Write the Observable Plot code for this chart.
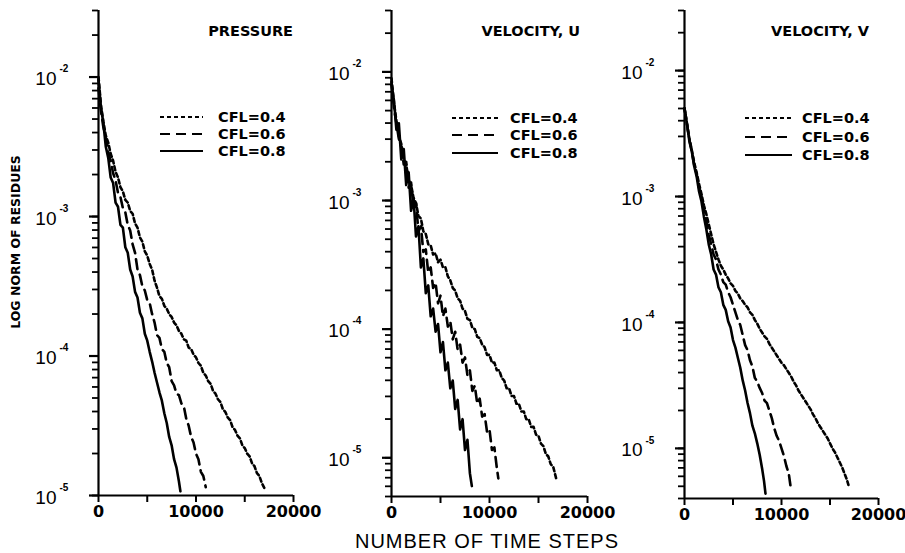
<!DOCTYPE html>
<html><head><meta charset="utf-8">
<script src="https://cdn.jsdelivr.net/npm/d3@7"></script>
<script src="https://cdn.jsdelivr.net/npm/@observablehq/plot@0.6"></script>
<style>
html,body{margin:0;padding:0;background:#fff;}
#root{position:relative;width:905px;height:553px;overflow:hidden;background:#fff;}
.panel{position:absolute;top:0;}
.panel svg{overflow:visible;}
#overlay{position:absolute;left:0;top:0;pointer-events:none;}
</style></head><body>
<div id="root"></div>
<script>
// ---- categories / labels ----
const cflLabels = ["CFL=0.4", "CFL=0.6", "CFL=0.8"];
const panelTitles = ["PRESSURE", "VELOCITY, U", "VELOCITY, V"];
const xTicks = [0, 5000, 10000, 15000, 20000];
const xTickLabels = ["0", "", "10000", "", "20000"];
const yDecades = [1e-2, 1e-3, 1e-4, 1e-5];
const yDecadeExps = ["-2", "-3", "-4", "-5"];
const xLabel = "NUMBER OF TIME STEPS";
const yLabel = "LOG NORM OF RESIDUES";

// ---- series: [time step, log10(norm of residues)] ----
const pressure04 = [[0,-2.00],[250,-2.20],[500,-2.32],[750,-2.42],[1000,-2.47],[1250,-2.55],[1500,-2.60],[1750,-2.68],[2000,-2.72],[2250,-2.79],[2500,-2.82],[2750,-2.88],[3000,-2.90],[3250,-2.96],[3500,-2.98],[3750,-3.05],[4000,-3.08],[4250,-3.15],[4500,-3.18],[4750,-3.25],[5000,-3.28],[5250,-3.34],[5500,-3.38],[5750,-3.46],[6000,-3.51],[6250,-3.57],[6500,-3.59],[6750,-3.64],[7000,-3.66],[7250,-3.70],[7500,-3.72],[7750,-3.76],[8000,-3.78],[8250,-3.82],[8500,-3.84],[8750,-3.88],[9000,-3.89],[9250,-3.94],[9500,-3.95],[9750,-3.99],[10000,-4.01],[10250,-4.05],[10500,-4.07],[10750,-4.12],[11000,-4.14],[11250,-4.18],[11500,-4.20],[11750,-4.25],[12000,-4.27],[12250,-4.31],[12500,-4.33],[12750,-4.38],[13000,-4.40],[13250,-4.44],[13500,-4.46],[13750,-4.51],[14000,-4.53],[14250,-4.57],[14500,-4.59],[14750,-4.64],[15000,-4.66],[15250,-4.70],[15500,-4.72],[15750,-4.77],[16000,-4.79],[16250,-4.84],[16500,-4.86],[16750,-4.91],[17100,-4.96]];
const pressure06 = [[0,-2.08],[250,-2.24],[500,-2.36],[750,-2.44],[1000,-2.54],[1250,-2.60],[1500,-2.69],[1750,-2.74],[2000,-2.83],[2250,-2.86],[2500,-2.94],[2750,-2.97],[3000,-3.06],[3250,-3.10],[3500,-3.20],[3750,-3.26],[4000,-3.38],[4250,-3.42],[4500,-3.50],[4750,-3.53],[5000,-3.60],[5250,-3.62],[5500,-3.70],[5750,-3.76],[6000,-3.85],[6250,-3.87],[6500,-3.95],[6750,-3.97],[7000,-4.05],[7250,-4.08],[7500,-4.18],[7750,-4.21],[8000,-4.27],[8250,-4.28],[8500,-4.34],[8750,-4.36],[9000,-4.45],[9250,-4.50],[9500,-4.58],[9750,-4.62],[10000,-4.70],[10250,-4.74],[10500,-4.83],[10750,-4.86],[11000,-4.94]];
const pressure08 = [[0,-2.02],[250,-2.22],[500,-2.33],[750,-2.50],[1000,-2.58],[1250,-2.72],[1500,-2.76],[1750,-2.90],[2000,-2.93],[2250,-3.06],[2500,-3.08],[2750,-3.22],[3000,-3.26],[3250,-3.38],[3500,-3.43],[3750,-3.54],[4000,-3.58],[4250,-3.69],[4500,-3.73],[4750,-3.84],[5000,-3.89],[5250,-3.97],[5500,-4.04],[5750,-4.12],[6000,-4.19],[6250,-4.26],[6500,-4.32],[6750,-4.41],[7000,-4.48],[7250,-4.58],[7500,-4.64],[7750,-4.74],[8000,-4.80],[8250,-4.90],[8400,-4.97]];

const velU04 = [[0,-2.05],[250,-2.24],[500,-2.38],[750,-2.50],[1000,-2.56],[1250,-2.68],[1500,-2.72],[1750,-2.84],[2000,-2.88],[2250,-2.98],[2500,-3.02],[2750,-3.12],[3000,-3.14],[3250,-3.24],[3500,-3.26],[3750,-3.34],[4000,-3.35],[4250,-3.42],[4500,-3.41],[4750,-3.48],[5000,-3.46],[5250,-3.52],[5500,-3.52],[5750,-3.59],[6000,-3.62],[6250,-3.68],[6500,-3.70],[6750,-3.76],[7000,-3.78],[7250,-3.84],[7500,-3.86],[7750,-3.92],[8000,-3.93],[8250,-3.99],[8500,-4.00],[8750,-4.06],[9000,-4.07],[9250,-4.12],[9500,-4.14],[9750,-4.20],[10000,-4.20],[10250,-4.26],[10500,-4.26],[10750,-4.32],[11000,-4.32],[11250,-4.38],[11500,-4.40],[11750,-4.46],[12000,-4.46],[12250,-4.52],[12500,-4.52],[12750,-4.58],[13000,-4.58],[13250,-4.64],[13500,-4.64],[13750,-4.70],[14000,-4.70],[14250,-4.76],[14500,-4.76],[14750,-4.82],[15000,-4.83],[15250,-4.89],[15500,-4.91],[15750,-4.97],[16000,-4.99],[16250,-5.05],[16500,-5.07],[16800,-5.16]];
const velU06 = [[0,-2.08],[250,-2.28],[500,-2.40],[750,-2.52],[1000,-2.58],[1250,-2.72],[1500,-2.70],[1750,-2.90],[2000,-2.86],[2250,-3.06],[2500,-3.02],[2750,-3.24],[3000,-3.20],[3250,-3.40],[3500,-3.38],[3750,-3.56],[4000,-3.52],[4250,-3.68],[4500,-3.64],[4750,-3.80],[5000,-3.74],[5250,-3.90],[5500,-3.84],[5750,-3.98],[6000,-3.94],[6250,-4.08],[6500,-4.02],[6750,-4.16],[7000,-4.12],[7250,-4.26],[7500,-4.22],[7750,-4.36],[8000,-4.32],[8250,-4.48],[8500,-4.44],[8750,-4.58],[9000,-4.54],[9250,-4.68],[9500,-4.66],[9750,-4.80],[10000,-4.78],[10250,-4.94],[10500,-4.92],[10750,-5.08],[10900,-5.16]];
const velU08 = [[0,-2.10],[250,-2.22],[500,-2.45],[750,-2.40],[1000,-2.68],[1250,-2.60],[1500,-2.88],[1750,-2.78],[2000,-3.08],[2250,-2.98],[2500,-3.28],[2750,-3.20],[3000,-3.52],[3250,-3.45],[3500,-3.72],[3750,-3.66],[4000,-3.90],[4250,-3.84],[4500,-4.02],[4750,-3.96],[5000,-4.18],[5250,-4.10],[5500,-4.32],[5750,-4.26],[6000,-4.46],[6250,-4.40],[6500,-4.62],[6750,-4.55],[7000,-4.78],[7250,-4.70],[7500,-4.94],[7750,-4.86],[8000,-5.12],[8200,-5.22]];

const velV04 = [[0,-2.30],[250,-2.42],[500,-2.54],[750,-2.63],[1000,-2.73],[1250,-2.81],[1500,-2.90],[1750,-2.98],[2000,-3.07],[2250,-3.14],[2500,-3.22],[2750,-3.30],[3000,-3.38],[3250,-3.44],[3500,-3.50],[3750,-3.55],[4000,-3.58],[4250,-3.62],[4500,-3.65],[4750,-3.69],[5000,-3.71],[5250,-3.75],[5500,-3.77],[5750,-3.81],[6000,-3.83],[6250,-3.86],[6500,-3.88],[6750,-3.92],[7000,-3.94],[7250,-3.98],[7500,-4.01],[7750,-4.05],[8000,-4.08],[8250,-4.11],[8500,-4.13],[8750,-4.17],[9000,-4.20],[9250,-4.23],[9500,-4.26],[9750,-4.29],[10000,-4.32],[10250,-4.34],[10500,-4.37],[10750,-4.40],[11000,-4.43],[11250,-4.47],[11500,-4.50],[11750,-4.54],[12000,-4.57],[12250,-4.60],[12500,-4.63],[12750,-4.66],[13000,-4.69],[13250,-4.73],[13500,-4.76],[13750,-4.80],[14000,-4.83],[14250,-4.86],[14500,-4.89],[14750,-4.92],[15000,-4.96],[15250,-5.00],[15500,-5.03],[15750,-5.07],[16000,-5.11],[16250,-5.15],[16500,-5.20],[16750,-5.25],[16900,-5.29]];
const velV06 = [[0,-2.30],[250,-2.42],[500,-2.55],[750,-2.64],[1000,-2.75],[1250,-2.82],[1500,-2.93],[1750,-3.00],[2000,-3.10],[2250,-3.20],[2500,-3.30],[2750,-3.38],[3000,-3.46],[3250,-3.50],[3500,-3.58],[3750,-3.62],[4000,-3.68],[4250,-3.70],[4500,-3.76],[4750,-3.80],[5000,-3.86],[5250,-3.92],[5500,-3.98],[5750,-4.02],[6000,-4.10],[6250,-4.18],[6500,-4.22],[6750,-4.30],[7000,-4.35],[7250,-4.44],[7500,-4.47],[7750,-4.52],[8000,-4.56],[8250,-4.62],[8500,-4.64],[8750,-4.70],[9000,-4.76],[9250,-4.84],[9500,-4.90],[9750,-4.94],[10000,-5.00],[10250,-5.06],[10500,-5.14],[10750,-5.20],[10930,-5.30]];
const velV08 = [[0,-2.30],[250,-2.42],[500,-2.56],[750,-2.64],[1000,-2.76],[1250,-2.84],[1500,-2.96],[1750,-3.04],[2000,-3.16],[2250,-3.26],[2500,-3.38],[2750,-3.46],[3000,-3.58],[3250,-3.62],[3500,-3.72],[3750,-3.76],[4000,-3.86],[4250,-3.90],[4500,-3.99],[4750,-4.04],[5000,-4.14],[5250,-4.20],[5500,-4.28],[5750,-4.36],[6000,-4.46],[6250,-4.54],[6500,-4.64],[6750,-4.72],[7000,-4.82],[7250,-4.88],[7500,-4.96],[7750,-5.05],[8000,-5.16],[8200,-5.26],[8350,-5.36]];

// ---- panel setup ----
const panelSeries = [
  [pressure04, pressure06, pressure08],
  [velU04, velU06, velU08],
  [velV04, velV06, velV08]
];
const yDomains = [[1e-5, 3e-2], [5e-6, 3e-2], [4e-6, 3e-2]];
const dashes = ["4,3", "10,6", null];

// layout (pixels)
const layout = [
  {left: 0,   width: 305, ml: 98, mr: 12, mb: 58, title: 293, legLine: [160, 203], legText: 218, legY: [117, 134, 151]},
  {left: 300, width: 300, ml: 91, mr: 13, mb: 57, title: 580, legLine: [452, 498], legText: 510, legY: [118, 135, 153]},
  {left: 600, width: 305, ml: 84, mr: 27, mb: 55, title: 869, legLine: [745, 792], legText: 802, legY: [118, 137, 155]}
];
const H = 553, MT = 10;

const root = document.getElementById("root");

panelSeries.forEach((series, p) => {
  const L = layout[p];
  const plotW = L.width - L.ml - L.mr;
  const plotH = H - MT - L.mb;
  const yMinor = d3.scaleLog().domain(yDomains[p]).ticks(40);
  const rows = series.map(s => s.map(([step, e]) => ({step, value: Math.pow(10, e)})));
  const lineMarks = rows.map((r, i) => Plot.line(r, {
    x: "step", y: "value", stroke: "#000", strokeWidth: 2.6,
    strokeDasharray: dashes[i], strokeLinejoin: "round"
  }));
  const chart = Plot.plot({
    width: L.width, height: H,
    marginLeft: L.ml, marginRight: L.mr, marginTop: MT, marginBottom: L.mb,
    style: {background: "transparent", overflow: "visible", color: "#000", fontFamily: "Liberation Sans, Arial, sans-serif"},
    x: {type: "linear", domain: [0, 20000], axis: null, label: null},
    y: {type: "log", domain: yDomains[p], axis: null, label: null},
    marks: [
      // minor y ticks (outward, left of the axis)
      Plot.tickY(yMinor, {y: d => d, stroke: "#000", strokeWidth: 1.8, insetRight: plotW - 6, dx: -6}),
      // decade ticks
      Plot.tickY(yDecades, {y: d => d, stroke: "#000", strokeWidth: 2.2, insetRight: plotW - 9, dx: -9}),
      // decade labels "10" with superscript exponent
      Plot.text(yDecades, {y: d => d, frameAnchor: "left", text: () => "10", textAnchor: "end",
        dx: -42, dy: 2, fontSize: 19, fill: "#000"}),
      Plot.text(yDecades, {y: d => d, frameAnchor: "left", text: (d, i) => yDecadeExps[i],
        textAnchor: "start", dx: -39, dy: -8, fontSize: 10, fontWeight: "bold", fill: "#000"}),
      // x ticks (outward, below the axis) and labels
      Plot.tickX(xTicks, {x: d => d, stroke: "#000", strokeWidth: 2, insetTop: plotH - 7, dy: 7}),
      Plot.text(xTicks, {x: d => d, frameAnchor: "bottom", text: (d, i) => xTickLabels[i],
        dy: 21, fontSize: 16, fontWeight: "bold", fill: "#000", fontFamily: "DejaVu Sans, sans-serif"}),
      // axis lines
      Plot.ruleX([0], {stroke: "#000", strokeWidth: 2.2}),
      Plot.ruleY([yDomains[p][0]], {stroke: "#000", strokeWidth: 2.2}),
      ...lineMarks
    ]
  });
  const div = document.createElement("div");
  div.className = "panel";
  div.style.left = L.left + "px";
  div.appendChild(chart);
  root.appendChild(div);
});

// overlay for titles, legends and axis titles
const svg = d3.select(root).append("svg").attr("id", "overlay")
  .attr("width", 905).attr("height", 553);

panelSeries.forEach((series, p) => {
  const L = layout[p];
  svg.append("text").attr("x", L.title).attr("y", 31)
    .attr("text-anchor", "end").attr("dominant-baseline", "central")
    .attr("font-family", "DejaVu Sans, sans-serif").attr("font-weight", "bold")
    .attr("font-size", 14.5).text(panelTitles[p]);
  cflLabels.forEach((lab, i) => {
    const g = svg.append("g");
    g.append("line").attr("x1", L.legLine[0]).attr("x2", L.legLine[1])
      .attr("y1", L.legY[i]).attr("y2", L.legY[i])
      .attr("stroke", "#000").attr("stroke-width", 2)
      .attr("stroke-dasharray", dashes[i]);
    g.append("text").attr("x", L.legText).attr("y", L.legY[i])
      .attr("dominant-baseline", "central")
      .attr("font-family", "DejaVu Sans, sans-serif").attr("font-weight", "bold")
      .attr("font-size", 14.5).text(lab);
  });
});

svg.append("text").attr("transform", "translate(15,242) rotate(-90)")
  .attr("text-anchor", "middle").attr("dominant-baseline", "central")
  .attr("font-family", "DejaVu Sans, sans-serif").attr("font-weight", "bold")
  .attr("font-size", 12.5).text(yLabel);

svg.append("text").attr("x", 487).attr("y", 541)
  .attr("text-anchor", "middle").attr("dominant-baseline", "central")
  .attr("font-family", "Liberation Sans, Arial, sans-serif")
  .attr("font-size", 20).attr("letter-spacing", 1).text(xLabel);
</script>
</body></html>
